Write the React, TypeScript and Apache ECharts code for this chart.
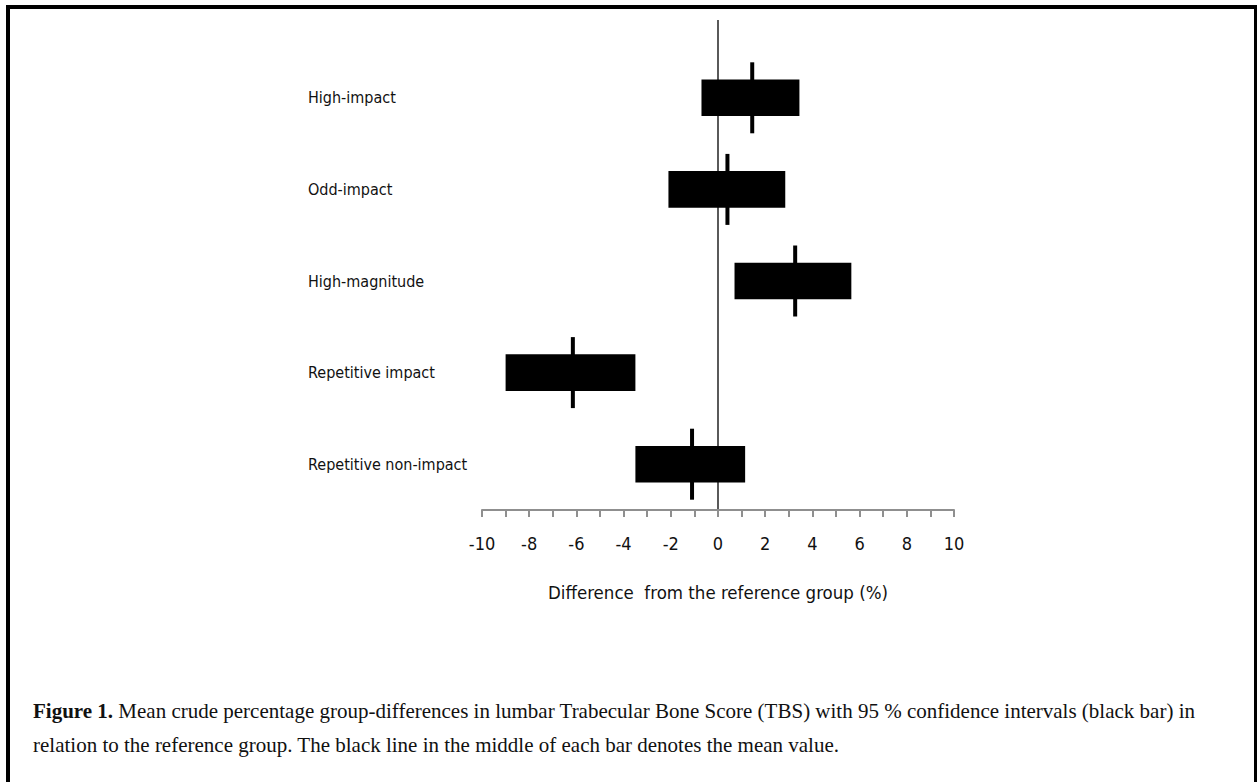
import React, { useEffect, useRef } from "react";
import * as echarts from "echarts";

const categories = [
  "High-impact",
  "Odd-impact",
  "High-magnitude",
  "Repetitive impact",
  "Repetitive non-impact",
];
const lowValues = [-0.7, -2.1, 0.7, -9.0, -3.5];
const highValues = [3.45, 2.85, 5.65, -3.5, 1.15];
const meanValues = [1.45, 0.4, 3.27, -6.15, -1.1];
const xTicks = [-10, -8, -6, -4, -2, 0, 2, 4, 6, 8, 10];

const axisTitle = "Difference  from the reference group (%)";
const captionBold = "Figure 1.";
const captionLine1 =
  " Mean crude percentage group-differences in lumbar Trabecular Bone Score (TBS) with 95 % confidence intervals (black bar) in";
const captionLine2 =
  "relation to the reference group. The black line in the middle of each bar denotes the mean value.";

const SANS = "'DejaVu Sans Condensed', 'Liberation Sans Narrow', 'Open Sans', sans-serif";
const SERIF = "'Liberation Serif', 'DejaVu Serif', serif";

export default function App() {
  const ref = useRef<HTMLDivElement>(null);
  useEffect(() => {
    document.body.style.margin = "0";
    if (!ref.current) return;
    const chart = echarts.init(ref.current, undefined, { renderer: "svg" });
    const data = categories.map((_, i) => [i, lowValues[i], highValues[i], meanValues[i]]);
    const frame = [
      { type: "rect", id: "bTop", shape: { x: 6, y: 5, width: 1251, height: 4 }, style: { fill: "#000" } },
      { type: "rect", id: "bLeft", shape: { x: 6, y: 5, width: 4, height: 777 }, style: { fill: "#000" } },
      { type: "rect", id: "bRight", shape: { x: 1254, y: 5, width: 3, height: 777 }, style: { fill: "#000" } },
      {
        type: "text",
        id: "cap1",
        x: 33,
        y: 711,
        style: {
          text: "{b|" + captionBold + "}" + captionLine1,
          font: "21px " + SERIF,
          fill: "#111",
          verticalAlign: "middle",
          rich: { b: { fontWeight: "bold", fontSize: 21, fontFamily: SERIF, fill: "#111" } },
        },
      },
      {
        type: "text",
        id: "cap2",
        x: 33,
        y: 745,
        style: { text: captionLine2, font: "21px " + SERIF, fill: "#111", verticalAlign: "middle" },
      },
    ];
    chart.setOption({
      animation: false,
      grid: { left: 482, right: 303, top: 52, bottom: 272, containLabel: false },
      xAxis: {
        type: "value",
        min: -10,
        max: 10,
        interval: 1,
        axisLine: { show: true, lineStyle: { color: "#8f8f8f", width: 2 } },
        axisTick: { show: true, length: 7, lineStyle: { color: "#8f8f8f", width: 2 } },
        splitLine: { show: false },
        axisLabel: {
          margin: 24,
          fontSize: 18,
          fontFamily: SANS,
          color: "#111",
          formatter: (v: number) => (xTicks.indexOf(v) >= 0 ? String(v) : ""),
        },
        name: axisTitle,
        nameLocation: "middle",
        nameGap: 73,
        nameTextStyle: { fontSize: 18.5, fontFamily: SANS, color: "#111" },
      },
      yAxis: {
        type: "category",
        inverse: true,
        data: categories,
        axisLine: { show: false },
        axisTick: { show: false },
        splitLine: { show: false },
        axisLabel: { align: "left", margin: 174, fontSize: 16, fontFamily: SANS, color: "#111" },
      },
      series: [
        {
          type: "custom",
          data,
          encode: { x: [1, 2, 3], y: 0 },
          renderItem: (params: any, api: any) => {
            const cat = api.value(0);
            const pLow = api.coord([api.value(1), cat]);
            const pHigh = api.coord([api.value(2), cat]);
            const pMean = api.coord([api.value(3), cat]);
            const band = api.size([0, 1])[1];
            const bh = band * 0.4;
            const mh = band * 0.775;
            return {
              type: "group",
              children: [
                {
                  type: "rect",
                  shape: { x: pLow[0], y: pLow[1] - bh / 2, width: pHigh[0] - pLow[0], height: bh },
                  style: { fill: "#000" },
                },
                {
                  type: "rect",
                  shape: { x: pMean[0] - 2, y: pMean[1] - mh / 2, width: 4, height: mh },
                  style: { fill: "#000" },
                },
              ],
            };
          },
        },
      ],
      graphic: frame,
    });
    const x0 = chart.convertToPixel({ xAxisIndex: 0 }, 0) as number;
    chart.setOption({
      graphic: [
        ...frame,
        {
          type: "line",
          id: "zero",
          shape: { x1: x0, y1: 20, x2: x0, y2: 517 },
          style: { stroke: "#000", lineWidth: 1.3 },
        },
      ],
    });
    return () => chart.dispose();
  }, []);
  return <div ref={ref} style={{ width: 1257, height: 782 }} />;
}
